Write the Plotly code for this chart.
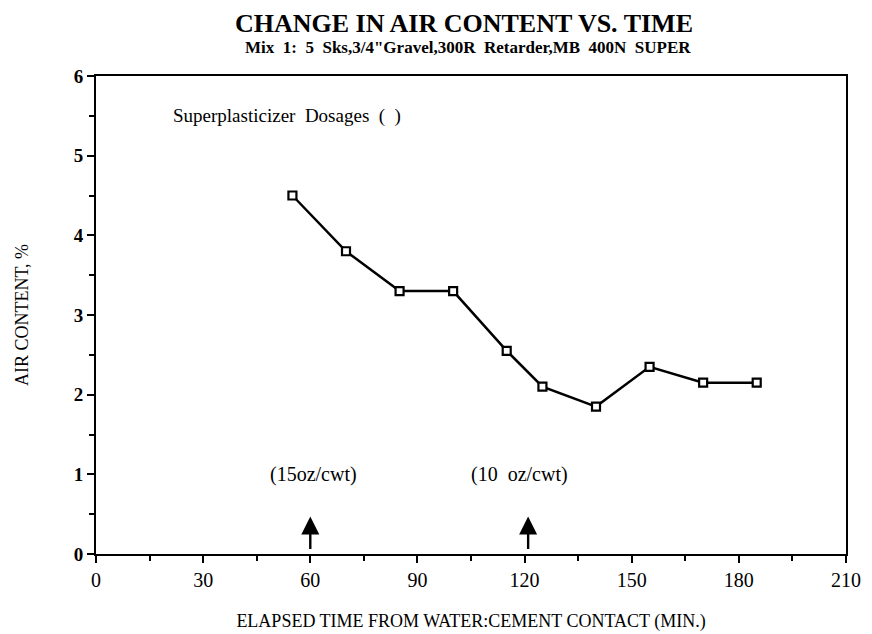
import plotly.graph_objects as go

# data
elapsed_min = [55, 70, 85, 100, 115, 125, 140, 155, 170, 185]
air_content = [4.5, 3.8, 3.3, 3.3, 2.55, 2.1, 1.85, 2.35, 2.15, 2.15]

# superplasticizer dosage times, label positions and labels
dose_times = [60, 121]
dose_label_x = [61, 118.5]
dose_labels = ['(15oz/cwt)', '(10  oz/cwt)']

SERIF = 'Liberation Serif, Times New Roman, serif'

fig = go.Figure()

fig.add_trace(go.Scatter(
    x=elapsed_min,
    y=air_content,
    mode='lines+markers',
    line=dict(color='black', width=2.5),
    marker=dict(symbol='square', size=8, color='white',
                line=dict(color='black', width=2.2)),
    showlegend=False
))

# dosage arrows and labels
for t, lx, lbl in zip(dose_times, dose_label_x, dose_labels):
    fig.add_annotation(x=t, y=0.47, ax=0, ay=34, text='', showarrow=True,
                       arrowhead=2, arrowsize=1.5, arrowwidth=2.4, arrowcolor='black')
    fig.add_annotation(x=lx, y=1.0, text=lbl, showarrow=False,
                       font=dict(family=SERIF, size=20, color='black'))

fig.add_annotation(x=21, y=5.5, text='Superplasticizer  Dosages  (  )', showarrow=False,
                   xanchor='left', font=dict(family=SERIF, size=19, color='black'))

# title and subtitle
fig.add_annotation(xref='paper', yref='paper', x=0.49, y=1.0 + 53 / 478, yanchor='middle',
                   text='<b>CHANGE IN AIR CONTENT VS. TIME</b>', showarrow=False,
                   font=dict(family=SERIF, size=26, color='black'))
fig.add_annotation(xref='paper', yref='paper', x=0.496, y=1.0 + 28 / 478, yanchor='middle',
                   text='<b>Mix  1:  5  Sks,3/4"Gravel,300R  Retarder,MB  400N  SUPER</b>',
                   showarrow=False, font=dict(family=SERIF, size=17, color='black'))

fig.update_layout(
    width=872, height=634,
    margin=dict(l=88, r=34, t=68, b=88),
    paper_bgcolor='white',
    plot_bgcolor='white',
    font=dict(family=SERIF, color='black'),
    xaxis=dict(
        range=[0, 210], tickvals=[0, 30, 60, 90, 120, 150, 180, 210],
        ticks='outside', ticklen=7, tickwidth=2, tickcolor='black',
        minor=dict(dtick=15, tick0=0, ticks='outside', ticklen=5, tickwidth=2, tickcolor='black'),
        showline=True, linewidth=2, linecolor='black', mirror=True,
        showgrid=False, zeroline=False, automargin=False,
        tickfont=dict(family=SERIF, size=20, color='black'),
        title=dict(text='ELAPSED TIME FROM WATER:CEMENT CONTACT (MIN.)', standoff=24,
                   font=dict(family=SERIF, size=18, color='black'))
    ),
    yaxis=dict(
        range=[0, 6], dtick=1,
        ticks='outside', ticklen=7, tickwidth=2, tickcolor='black',
        minor=dict(dtick=0.5, ticks='outside', ticklen=5, tickwidth=2, tickcolor='black'),
        showline=True, linewidth=2, linecolor='black', mirror=True,
        showgrid=False, zeroline=False, automargin=False,
        tickfont=dict(family=SERIF, size=19, color='black'),
        tickprefix='<b>', ticksuffix='</b>',
        title=dict(text='AIR CONTENT, %', standoff=40,
                   font=dict(family=SERIF, size=18, color='black'))
    )
)

fig.write_html("out.html")
